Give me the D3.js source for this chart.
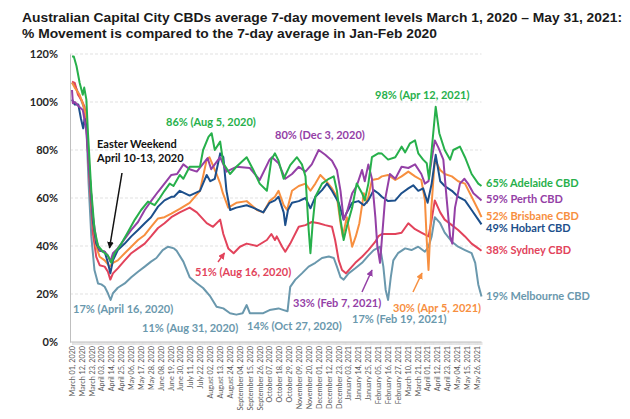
<!DOCTYPE html>
<html>
<head>
<meta charset="utf-8">
<script src="https://cdn.jsdelivr.net/npm/d3@7"></script>
<style>
  body { margin: 0; background: #fff; }
  svg { display: block; font-family: Lato, "Open Sans", sans-serif; }
</style>
</head>
<body>
<div id="chart"></div>
<script>
// series values: [days since March 1 2020, % of Jan-Feb average]
var adelaide = [[0,119],[2,119],[5,115],[8.5,108],[12,103],[13.6,106],[16,101],[17.8,87],[21.5,63],[25,47],[29,40],[34.5,37.6],[40,36],[43.8,33],[47.5,37],[55,41],[62,45.6],[70,51],[77,55],[84.6,58.5],[92,57],[97.7,60],[103,63],[108.8,66],[113,65],[120,69.6],[124,68],[131,73],[142.5,73],[146,80],[152,85.5],[155.5,87],[159,80],[165,83.5],[168.5,74.5],[176,70],[183,73],[194.5,77],[201.5,72],[209,66],[217,63],[222,76],[226,78.6],[230,75.5],[235.7,68],[243,73.7],[250.5,77],[256,74],[260,69],[263.5,47],[265.5,37],[268,49.5],[271,60.5],[278.4,66],[286,68],[291.5,69],[295,63],[299,51],[302.5,42.5],[306,48],[312,56],[317,66],[323,62],[326,59],[330,66],[334,77],[341,78.6],[345,78.5],[352,76],[360,77],[367,81.4],[371,79],[376.4,82.8],[382,84],[385.6,78.6],[391,76],[395,74.5],[397.5,68],[400.5,80],[405,98],[409,87],[415,80],[421,76],[424.6,80],[432,81.4],[437.6,77],[445,70],[452.4,66],[456,65]];

var perth = [[0,105],[1,99.5],[3,100],[8,98],[12,96.7],[16,88],[19.7,69],[23.4,52],[27,42.5],[30.8,38.3],[36.4,37.6],[40,36],[42.7,33.5],[45.6,37],[51,39],[58.7,43],[66,46.7],[73.5,50],[81,55],[88,58.7],[95.8,62.6],[103,66],[110.6,69.6],[117,70],[124,74],[131,72],[139,71],[151,76.6],[155,72],[165,77],[172,71],[183,73],[198,72.5],[209,67.5],[220,76],[222.7,77],[230,74.5],[237.5,68],[245,70],[252.5,73],[260,71],[267,74],[274.7,80],[282,78],[289.5,75.5],[295,71.7],[299,63],[302.5,51],[306,54],[312,62],[317,65],[323,71.7],[326,67],[330,74],[334,68],[337.8,52],[340,40],[343,33],[348.5,59],[354,70],[360,68],[367,73],[374.5,72.5],[382,74],[389,70],[393,66],[397,67],[400.5,76],[404,84],[408,81],[413.5,76],[417,60.5],[421,44],[423.5,41],[426.5,56],[432,66],[437,68],[441,66],[447,62],[453,60],[456,59]];

var brisbane = [[0,108],[3,106],[8.5,103],[12,99.4],[16,94],[19.7,70],[23.4,49.5],[27,39.7],[30.8,35.5],[36.4,34],[42,31.4],[45.6,33],[51,34],[58.7,37],[66,39.7],[73.5,42.5],[81,44.6],[88,48],[95.8,51.5],[103,52],[110.6,53.5],[120,55.5],[131,58],[142.5,63],[150,76],[153,77],[161,70],[165,66],[168,62],[174,56],[183,58],[194.5,58.7],[206,55],[213,54],[220,58.7],[226,60.5],[230,63],[235.7,57],[239.5,55],[245,63],[252.5,65],[260,66],[265.5,63],[271,66],[276.5,69.6],[282,67.5],[289.5,64],[295,60.5],[299,49.5],[301.5,44],[306,52],[312,39.7],[316,44],[320,49.5],[325,62],[328.5,58],[334,67.5],[341,68],[345,69],[352,69.6],[360,67.5],[367,69],[374.5,71],[382,69],[389,67.5],[393,59],[395,42.5],[397,30],[400,55],[404,76],[410,71.7],[415,70],[423,69],[430,67],[437.6,66],[445,60.5],[452.4,55],[456,52]];

var hobart = [[0,101],[3,99],[7,99],[10,93],[12.5,89],[14,93],[16,90],[19.7,70],[23.4,50],[27,41],[30.8,38],[36.4,37.6],[40,33],[42.7,28.6],[45.6,34],[51,38.3],[58.7,41],[66,44],[73.5,46.7],[81,49.5],[88,52],[95.8,56.4],[103,59],[110.6,60.5],[113.6,60.5],[120,63],[131,61],[142.5,63],[150,69.6],[154,67],[159,68],[165,78.6],[168.5,77],[172,63],[176,55],[183,56],[194.5,57],[201.5,56],[213,54],[220,58],[226,59],[230,60.5],[235.7,54],[237.5,48.7],[240.5,55],[245,58],[252.5,58.7],[260,60],[265.5,55.7],[271,60.5],[278.4,63.3],[284,66],[289.5,63],[297,58],[302.5,51],[306,54],[312,58],[319,58.7],[325,57],[330,59],[336,63.3],[341,62],[345,60.5],[352,58.7],[360,59],[367,62],[374.5,64],[380,65.3],[385.6,63],[391,64],[396,58],[400.5,66],[405,78],[410,67],[415,65],[423,63],[430,60.5],[437.6,59],[445,55],[452.4,51],[456,49]];

var sydney = [[0,108.5],[3,108],[6.7,103],[10.7,100.8],[14,98],[16,91],[19.7,66],[23.4,45],[27,35.5],[30.8,32],[36.4,31.4],[40,29.3],[42.7,26],[45.6,28.6],[51,30.7],[58.7,34],[66,37],[73.5,39],[81,41],[88,44],[95.8,47.5],[103,49.5],[110.6,52],[120,54],[131,56],[139,54],[150,49.5],[157,48],[165,51],[168.5,45],[174,39],[180,37],[187,39.7],[194.5,41],[206,40],[217,42.5],[222,45],[226,42.5],[228,44],[234,39.7],[237.5,37.6],[243,41],[252.5,48],[260,48.7],[267,50],[274.7,49.5],[282,48.7],[289.5,48],[293,42.5],[297,34],[300.7,30],[305,28.6],[310,30.7],[315.5,33],[323,35.5],[330,38.3],[337.8,41.8],[341,44],[345,45],[352,45],[360,45],[367,45.5],[374.5,49.5],[382,47],[389,45.6],[397,44],[400.5,51],[404,59],[410,54],[415,51],[423,48.7],[430,46.7],[437.6,44],[445,41],[452.4,39],[456,38]];

var melbourne = [[0,108],[3,107],[6.7,104],[11,100],[14,96.7],[16,89.7],[18.5,66],[21.5,44],[25,30],[29,24.4],[32.7,24],[36.4,23],[40,20.3],[43,17.5],[45.6,20.3],[51,22.6],[58.7,24.4],[66,27],[73.5,29.3],[81,31.4],[88,33.5],[94,35],[101,38.3],[107,39.7],[113.6,39],[116.5,38],[124,33.5],[131,27],[139,24.5],[146,22.5],[154,19],[161,14.7],[168.5,14],[176,12],[183,11.4],[190,12],[194.5,15.4],[198,12],[206,12],[213,12],[220,13.3],[230,14],[235.7,13.3],[240,12.8],[243,23],[248.7,26],[256,28.6],[263.5,31.4],[271,33],[278.4,35],[286,35.6],[291.5,35],[295,31.4],[299,27],[302.5,26],[308,28.6],[315.5,30.7],[323,33],[330,36],[336,38.3],[343,39.7],[346.7,31.4],[349.3,21.7],[352,17.5],[355,27],[357.8,34],[363,37],[371,39],[378,38.3],[385.6,39.7],[393,37.6],[397,39.7],[400.5,44],[404,52],[410,49.5],[415,45.6],[423,41.8],[430,39.7],[437.6,38.3],[445,37],[449,33],[452.4,24],[456,19]];

var cityLabels = ["65% Adelaide CBD", "59% Perth CBD", "52% Brisbane CBD", "49% Hobart CBD", "38% Sydney CBD", "19% Melbourne CBD"];

var yTicks = [0, 20, 40, 60, 80, 100, 120];

var xTickLabels = ["March 01, 2020","March 12, 2020","March 23, 2020","April 03, 2020","April 14, 2020","April 25, 2020","May 06, 2020","May 17, 2020","May 28, 2020","June 08, 2020","June 19, 2020","June 30, 2020","July 11, 2020","July 22, 2020","August 02, 2020","August 13, 2020","August 24, 2020","September 04, 2020","September 15, 2020","September 26, 2020","October 07, 2020","October 18, 2020","October 29, 2020","November 09, 2020","November 20, 2020","December 01, 2020","December 12, 2020","December 23, 2020","January 03, 2021","January 14, 2021","January 25, 2021","February 05, 2021","February 16, 2021","February 27, 2021","March 10, 2021","March 21, 2021","April 01, 2021","April 12, 2021","April 23, 2021","May 04, 2021","May 15, 2021","May 26, 2021"];

var notes = ["86% (Aug 5, 2020)", "Easter Weekend", "April 10-13, 2020", "80% (Dec 3, 2020)", "98% (Apr 12, 2021)", "51% (Aug 16, 2020)", "17% (April 16, 2020)", "11% (Aug 31, 2020)", "14% (Oct 27, 2020)", "33% (Feb 7, 2021)", "17% (Feb 19, 2021)", "30% (Apr 5, 2021)"];

// ---- layout ----
var width = 630, height = 419;
var plotLeft = 70, plotRight = 481.5, plotTop = 54, plotBottom = 342;

var colors = {
  adelaide: "#27b04b",
  perth: "#9440a6",
  brisbane: "#f78f3f",
  hobart: "#1c4f8b",
  sydney: "#e2435b",
  melbourne: "#6a98ad"
};

var START = new Date(2020, 2, 1);
var END = new Date(2021, 4, 31);
function toDate(n) { return new Date(START.getTime() + n * 864e5); }
var parseTick = d3.timeParse("%B %d, %Y");

var svg = d3.select("#chart").append("svg")
  .attr("width", width)
  .attr("height", height);

svg.append("rect").attr("width", width).attr("height", height).attr("fill", "#fff");

// title
var title = svg.append("g").attr("font-family", "'Liberation Sans', Arial, sans-serif")
  .attr("font-weight", "bold").attr("font-size", 13.5).attr("fill", "#1a1a1a");
title.append("text").attr("x", 22).attr("y", 22)
  .attr("textLength", 600).attr("lengthAdjust", "spacingAndGlyphs")
  .text("Australian Capital City CBDs average 7-day movement levels March 1, 2020 \u2013 May 31, 2021:");
title.append("text").attr("x", 22).attr("y", 38)
  .attr("textLength", 415).attr("lengthAdjust", "spacingAndGlyphs")
  .text("% Movement is compared to the 7-day average in Jan-Feb 2020");

var xScale = d3.scaleTime().domain([START, END]).range([72, plotRight]);
var yScale = d3.scaleLinear().domain([0, 120]).range([plotBottom, plotTop]);

// gridlines
svg.append("g").selectAll("line")
  .data(yTicks.filter(function(d) { return d > 0; }))
  .enter().append("line")
  .attr("x1", plotLeft).attr("x2", plotRight)
  .attr("y1", function(d) { return yScale(d); })
  .attr("y2", function(d) { return yScale(d); })
  .attr("stroke", "#d9d9d9").attr("stroke-width", 0.8)
  .attr("stroke-dasharray", "3,2");

// y axis
var yAxis = svg.append("g")
  .attr("transform", "translate(" + plotLeft + ",0)")
  .call(d3.axisLeft(yScale).tickValues(yTicks).tickSize(0).tickPadding(12)
    .tickFormat(function(d) { return d + "%"; }));
yAxis.select(".domain").attr("stroke", "#bfbfbf");
yAxis.selectAll("text").attr("font-family", "Lato, sans-serif")
  .attr("font-weight", "bold").attr("font-size", 11).attr("fill", "#262626");

// x axis: daily tick marks
var days = d3.timeDay.range(START, d3.timeDay.offset(END, 1));
var xTicks = svg.append("g")
  .attr("transform", "translate(0," + plotBottom + ")")
  .call(d3.axisBottom(xScale).tickValues(days).tickSize(3).tickFormat(""));
xTicks.select(".domain").attr("stroke", "#bfbfbf").attr("d", "M" + plotLeft + ",0H" + plotRight);
xTicks.selectAll(".tick line").attr("stroke", "#c8c8c8").attr("stroke-width", 0.5);

// x axis labels
var xLab = svg.append("g")
  .attr("transform", "translate(0," + plotBottom + ")")
  .call(d3.axisBottom(xScale).tickValues(xTickLabels.map(parseTick)).tickSize(0)
    .tickFormat(function(d, i) { return xTickLabels[i]; }));
xLab.select(".domain").remove();
xLab.selectAll("text")
  .attr("x", -4).attr("y", 0).attr("dy", "0.32em")
  .attr("transform", "rotate(-90)")
  .style("text-anchor", "end")
  .attr("font-family", "Lato, sans-serif")
  .attr("font-size", 7.2).attr("fill", "#595959");

// lines
var line = d3.line()
  .x(function(d) { return xScale(toDate(d[0])); })
  .y(function(d) { return yScale(d[1]); });

var series = [
  { key: "melbourne", values: melbourne },
  { key: "sydney", values: sydney },
  { key: "brisbane", values: brisbane },
  { key: "hobart", values: hobart },
  { key: "perth", values: perth },
  { key: "adelaide", values: adelaide }
];

svg.append("g").selectAll("path")
  .data(series).enter().append("path")
  .attr("d", function(d) { return line(d.values); })
  .attr("fill", "none")
  .attr("stroke", function(d) { return colors[d.key]; })
  .attr("stroke-width", 2)
  .attr("stroke-linejoin", "round");

// end labels
var labelKeys = ["adelaide", "perth", "brisbane", "hobart", "sydney", "melbourne"];
var labelY = [183.5, 199.5, 216.5, 228, 250, 296];
svg.append("g").selectAll("text")
  .data(cityLabels).enter().append("text")
  .attr("x", 486)
  .attr("y", function(d, i) { return labelY[i]; })
  .attr("dy", "0.35em")
  .attr("font-weight", "bold").attr("font-size", 11)
  .attr("fill", function(d, i) { return colors[labelKeys[i]]; })
  .text(function(d) { return d; });

// annotations
var noteColor = [colors.adelaide, "#111", "#111", colors.perth, colors.adelaide, colors.sydney,
  colors.melbourne, colors.melbourne, colors.melbourne, colors.perth, colors.melbourne, colors.brisbane];
var noteX = [166, 97, 97, 275, 375, 195, 73, 142, 247, 293, 352, 393];
var noteY = [121.7, 144, 158.3, 135, 95, 272.5, 309, 328.5, 326, 302.7, 319.3, 307.7];
svg.append("g").selectAll("text")
  .data(notes).enter().append("text")
  .attr("x", function(d, i) { return noteX[i]; })
  .attr("y", function(d, i) { return noteY[i]; })
  .attr("dy", "0.35em")
  .attr("font-weight", "bold").attr("font-size", 11)
  .attr("fill", function(d, i) { return noteColor[i]; })
  .text(function(d) { return d; });

// arrows
var arrows = [
  { c: "#111", p: [[122, 173], [109.5, 248]] },
  { c: colors.sydney, p: [[218, 262], [224.5, 253]] },
  { c: colors.perth, p: [[362, 292], [372, 270]] },
  { c: colors.brisbane, p: [[413, 292], [422, 273]] }
];
var defs = svg.append("defs");
arrows.forEach(function(a, i) {
  defs.append("marker").attr("id", "ah" + i)
    .attr("viewBox", "0 0 10 10").attr("refX", 9).attr("refY", 5)
    .attr("markerWidth", 4.5).attr("markerHeight", 4.5).attr("orient", "auto")
    .append("path").attr("d", "M0,0L10,5L0,10z").attr("fill", a.c);
  svg.append("line")
    .attr("x1", a.p[0][0]).attr("y1", a.p[0][1])
    .attr("x2", a.p[1][0]).attr("y2", a.p[1][1])
    .attr("stroke", a.c).attr("stroke-width", 1.5)
    .attr("marker-end", "url(#ah" + i + ")");
});
</script>
</body>
</html>
